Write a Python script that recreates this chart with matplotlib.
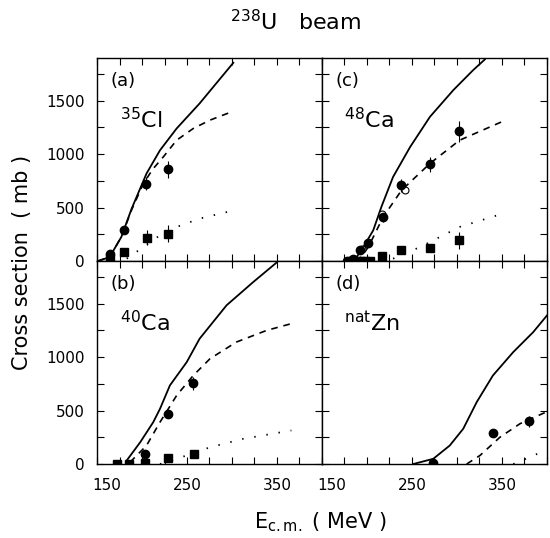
import matplotlib.pyplot as plt
from matplotlib.ticker import MultipleLocator
from matplotlib.transforms import ScaledTranslation

# panel (a) 35Cl
a_solid_x = [151, 164, 177, 188.5, 205, 220, 238.5, 264, 301.5]
a_solid_y = [0, 37, 225, 491, 819, 1037, 1241, 1475, 1856]
a_dash_x = [151, 164, 177, 188.5, 201.5, 212, 223.7, 238.5, 257, 275.6, 299.7]
a_dash_y = [0, 37, 225, 480, 725, 860, 975, 1131, 1241, 1319, 1397]
a_dot_x = [183, 201.5, 220, 238.5, 264, 298]
a_dot_y = [22, 131, 241, 319, 397, 466]
a_circ_x = [164, 180, 204.5, 229]
a_circ_y = [70, 288, 725, 857]
a_circ_e = [0, 0, 60, 80]
a_sq_x = [164, 180, 205, 229]
a_sq_y = [20, 85, 219, 256]
a_sq_e = [0, 0, 70, 80]

# panel (b) 40Ca
b_solid_x = [183, 198, 212.5, 220, 231, 249.7, 264, 294, 323.7, 349.6]
b_solid_y = [33, 204, 392, 517, 736, 954, 1173, 1486, 1704, 1886]
b_dash_x = [186.7, 205, 220, 238.5, 257, 275.6, 305, 338.6, 366]
b_dash_y = [17, 173, 392, 642, 829, 986, 1142, 1251, 1314]
b_dot_x = [220, 249.6, 275.6, 312.6, 366]
b_dot_y = [0, 80, 157, 236, 314]
b_circ_x = [203.3, 229, 257]
b_circ_y = [95, 470, 757]
b_circ_e = [0, 0, 60]
b_sq_x = [172.6, 186, 203.3, 229, 257.8]
b_sq_y = [0, 0, 5, 58, 95]
b_sq_e = [0, 0, 0, 0, 0]

# panel (c) 48Ca
c_solid_x = [183, 188.5, 196, 207, 216, 229, 248, 270, 296, 318, 331]
c_solid_y = [0, 37, 131, 288, 506, 787, 1068, 1350, 1600, 1787, 1887]
c_dash_x = [188, 192, 201.5, 218, 238.5, 270, 303, 349.7]
c_dash_y = [0, 22, 131, 412, 663, 913, 1131, 1303]
c_dot_x = [229, 259, 303, 351]
c_dot_y = [22, 131, 319, 444]
c_circ_x = [178, 181, 185, 192, 201.5, 217.4, 237.4, 270, 302.6]
c_circ_y = [5, 5, 22, 106, 169, 412, 709, 906, 1215]
c_circ_e = [0, 0, 0, 0, 0, 50, 60, 70, 100]
c_open_x = [195, 217, 242]
c_open_y = [110, 440, 663]
c_sq_x = [183, 188, 193, 198, 203, 217, 238, 270, 302.6]
c_sq_y = [0, 0, 0, 0, 0, 47, 100, 125, 194]
c_sq_e = [0, 0, 0, 0, 0, 0, 0, 0, 80]

# panel (d) natZn
d_solid_x = [251.5, 273.7, 292, 307, 322, 340, 362.6, 384.8, 400]
d_solid_y = [0, 49, 173, 330, 580, 829, 1048, 1235, 1390]
d_dash_x = [310.8, 325.6, 347.8, 370, 400]
d_dash_y = [0, 80, 251, 377, 490]
d_dot_x = [362.6, 381, 400]
d_dot_y = [0, 64, 135]
d_circ_x = [273.7, 339.7, 380.4]
d_circ_y = [11, 292, 401]
d_circ_e = [0, 0, 50]

x_ticks = [150, 250, 350]
x_ticklabels = ["150", "250", "350"]
y_ticks = [0, 500, 1000, 1500]

panels = [
    ("(a)", r"$^{35}$Cl", a_solid_x, a_solid_y, a_dash_x, a_dash_y, a_dot_x, a_dot_y,
     a_circ_x, a_circ_y, a_circ_e, a_sq_x, a_sq_y, a_sq_e, [], []),
    ("(b)", r"$^{40}$Ca", b_solid_x, b_solid_y, b_dash_x, b_dash_y, b_dot_x, b_dot_y,
     b_circ_x, b_circ_y, b_circ_e, b_sq_x, b_sq_y, b_sq_e, [], []),
    ("(c)", r"$^{48}$Ca", c_solid_x, c_solid_y, c_dash_x, c_dash_y, c_dot_x, c_dot_y,
     c_circ_x, c_circ_y, c_circ_e, c_sq_x, c_sq_y, c_sq_e, c_open_x, c_open_y),
    ("(d)", r"$^{\mathrm{nat}}$Zn", d_solid_x, d_solid_y, d_dash_x, d_dash_y, d_dot_x, d_dot_y,
     d_circ_x, d_circ_y, d_circ_e, [], [], [], [], []),
]

fig = plt.figure(figsize=(5.5, 5.38), dpi=100)
L, B, W, H = 0.1764, 0.1375, 0.409, 0.3773
pos = [(L, B + H), (L, B), (L + W, B + H), (L + W, B)]
bottom_axes = []

for i, p in enumerate(panels):
    (lab, nuc, sx, sy, dx, dy, ox, oy, cx, cy, ce, qx, qy, qe, hx, hy) = p
    ax = fig.add_axes([pos[i][0], pos[i][1], W, H])
    ax.plot(sx, sy, '-', color='black', lw=1.3)
    ax.plot(dx, dy, color='black', lw=1.2, dashes=(4, 3.5))
    ax.plot(ox, oy, color='black', lw=1.3, dashes=(0.8, 6))
    ax.errorbar(cx, cy, yerr=ce, fmt='o', color='black', ms=6, elinewidth=0.8, capsize=0)
    if qx:
        ax.errorbar(qx, qy, yerr=qe, fmt='s', color='black', ms=6, elinewidth=0.8, capsize=0)
    if hx:
        ax.plot(hx, hy, 'o', mfc='white', mec='black', ms=5, mew=0.8)
    ax.set_xlim(150, 400)
    ax.set_ylim(0, 1900)
    ax.set_xticks(x_ticks, x_ticklabels)
    ax.set_yticks(y_ticks)
    ax.xaxis.set_minor_locator(MultipleLocator(25))
    ax.yaxis.set_minor_locator(MultipleLocator(250))
    ax.tick_params(which='both', direction='in', top=True, right=True,
                   length=5, width=0.8, labelsize=11)
    ax.tick_params(axis='x', pad=10)
    ax.tick_params(axis='y', pad=9)
    if i in (0, 2):
        ax.tick_params(labelbottom=False)
    else:
        bottom_axes.append(ax)
    if i in (2, 3):
        ax.tick_params(labelleft=False)
    for s in ax.spines.values():
        s.set_linewidth(1.0)
    ax.text(0.06, 0.93, lab, transform=ax.transAxes, fontsize=13, va='top')
    ax.text(0.10, 0.76, nuc, transform=ax.transAxes, fontsize=16, va='top')

fig.text(296 / 550, 1 - 22 / 538, r"$^{238}$U   beam", ha='center', va='center', fontsize=16)
fig.text(320 / 550, 1 - 522 / 538, r"E$_{\mathrm{c.m.}}$ ( MeV )", ha='center', va='center', fontsize=15)
fig.text(22 / 550, 1 - 262 / 538, "Cross section  ( mb )", ha='center', va='center',
         rotation=90, fontsize=15)

# nudge the first "150" label right, as in the original
fig.canvas.draw()
for ax in bottom_axes:
    lbl = ax.xaxis.get_major_ticks()[0].label1
    lbl.set_transform(lbl.get_transform() + ScaledTranslation(0.1, 0, fig.dpi_scale_trans))

fig.savefig("out.png", dpi=100)
